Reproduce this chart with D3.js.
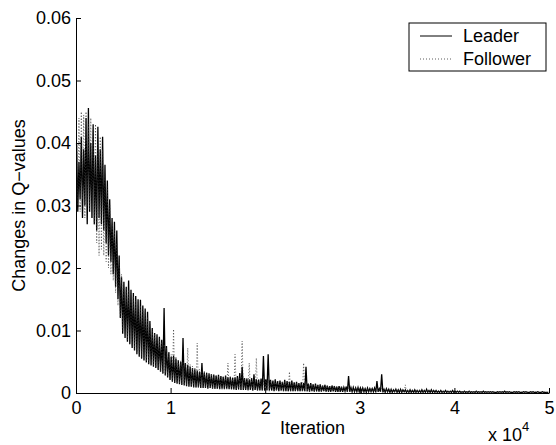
<!DOCTYPE html>
<html>
<head>
<meta charset="utf-8">
<script src="https://cdn.jsdelivr.net/npm/d3@7"></script>
<style>
  body { margin: 0; background: #fff; }
  text { font-family: "Liberation Sans", Arial, Helvetica, sans-serif; }
</style>
</head>
<body>
<svg id="chart"></svg>
<script>
const width = 556
const height = 445
const margin = {left: 76, right: 7, top: 18, bottom: 52}

const binSize = 250
const leaderHigh = [
  .040, .037, .041, .039, .044, .0456, .040, .043, .038, .0426,
  .039, .041, .0365, .034, .031, .028, .0274, .026, .022, .0185,
  .0178, .017, .018, .0165, .016, .0155, .015, .0149, .014, .0135,
  .013, .0115, .0104, .0096, .0094, .009, .0085, .0136, .0075, .0065,
  .0058, .006, .0055, .0052, .005, .0088, .0048, .0045, .0042, .004,
  .0038, .0036, .0034, .0048, .0033, .0032, .0031, .003, .0029, .0028,
  .0029, .0027, .0026, .0028, .0025, .0026, .0024, .0025, .0027, .0032,
  .0042, .0024, .0023, .0022, .0024, .003, .0022, .0021, .0023, .0059,
  .0022, .0062, .0021, .002, .0022, .0019, .002, .0018, .0021, .0019,
  .0018, .002, .0017, .0018, .0016, .0017, .0016, .0042, .0015, .0016,
  .0014, .0015, .0013, .0014, .0012, .0013, .0012, .0011, .0012, .0011,
  .001, .0011, .001, .0009, .001, .0027, .0009, .0009, .0008, .0009,
  .0008, .0008, .0007, .0008, .0007, .0007, .0008, .0019, .0007, .003,
  .0006, .0007, .0006, .0006, .0005, .0006, .0005, .0006, .0005, .0005,
  .0004, .0005, .0004, .0005, .0004, .0004, .0005, .0004, .0006, .0004,
  .0005, .0004, .0004, .0003, .0004, .0003, .0004, .0003, .0003, .0004,
  .0003, .0003, .0003, .0002, .0003, .0002, .0003, .0002, .0002, .0003,
  .0002, .0002, .0003, .0002, .0002, .0002, .0002, .0001, .0002, .0002,
  .0002, .0003, .0002, .0002, .0001, .0002, .0002, .0002, .0001, .0002,
  .0002, .0001, .0002, .0002, .0001, .0002, .0001, .0002, .0001, .0001
]
const leaderLow = [
  .029, .031, .028, .030, .027, .029, .028, .027, .026, .028,
  .027, .026, .024, .022, .021, .019, .017, .015, .012, .0095,
  .0088, .0082, .0078, .0072, .0068, .0062, .0058, .0055, .0052, .0049,
  .0046, .0044, .0042, .004, .0037, .0034, .0031, .0028, .0025, .0021,
  .0018, .0016, .0015, .0014, .0013, .0012, .0011, .001, .001, .0009,
  .0009, .0009, .0008, .0008, .0008, .0007, .0008, .0007, .0007, .0007,
  .0006, .0007, .0006, .0007, .0006, .0006, .0006, .0005, .0006, .0005,
  .0005, .0005, .0005, .0005, .0004, .0005, .0004, .0004, .0004, .0004,
  .0004, .0004, .0004, .0003, .0004, .0003, .0004, .0003, .0003, .0003,
  .0003, .0003, .0003, .0003, .0003, .0003, .0003, .0003, .0002, .0003,
  .0002, .0003, .0002, .0002, .0003, .0002, .0002, .0002, .0003, .0002,
  .0002, .0002, .0002, .0003, .0002, .0002, .0002, .0002, .0002, .0002,
  .0002, .0002, .0001, .0002, .0002, .0002, .0001, .0002, .0002, .0001,
  .0001, .0002, .0001, .0001, .0002, .0001, .0001, .0001, .0002, .0001,
  .0001, .0001, .0001, .0001, .0001, .0001, .0001, .0001, .0001, .0001,
  .0001, .0001, .0001, .0001, .0001, .0001, .0001, .0001, .0001, .0001,
  .0001, .0001, .0001, .0001, .0001, .0001, .0001, .0001, .0001, .0001,
  .0001, .0001, .0001, .0001, .0001, .0001, .0001, .0001, .0001, .0001,
  .0001, .0001, .0001, .0001, .0001, .0001, .0001, .0001, .0001, .0001,
  .0001, .0001, .0001, .0001, .0001, .0001, .0001, .0001, .0001, .0001
]
const followerHigh = [
  .041, .044, .045, .0445, .045, .043, .044, .042, .043, .04,
  .041, .039, .035, .033, .03, .027, .026, .024, .021, .019,
  .017, .0168, .0165, .016, .0155, .015, .0145, .014, .0135, .013,
  .0122, .011, .0102, .0095, .009, .0087, .0082, .0078, .0072, .0066,
  .0062, .0102, .0058, .0054, .0052, .005, .0048, .0072, .0046, .0043,
  .0041, .008, .0038, .0036, .0035, .0033, .0032, .0031, .003, .0029,
  .0028, .0028, .0027, .0026, .0048, .0026, .0025, .0062, .0025, .0024,
  .0083, .0024, .0023, .0048, .0023, .0022, .0056, .0022, .0021, .0021,
  .002, .0021, .002, .0019, .002, .0019, .0018, .0019, .0018, .0017,
  .0034, .0017, .0016, .0017, .0016, .0015, .0048, .0015, .0014, .0015,
  .0014, .0013, .0014, .0013, .0012, .0013, .0012, .0012, .0011, .0012,
  .0011, .0011, .001, .0011, .001, .001, .0009, .001, .0009, .0009,
  .0009, .0008, .0009, .0008, .0008, .0008, .0007, .0008, .0007, .0007,
  .0007, .0007, .0006, .0007, .0006, .0006, .0006, .0006, .0005, .0013,
  .0005, .0005, .0005, .0004, .0005, .0004, .0005, .0004, .0004, .0004,
  .0004, .0004, .0003, .0004, .0003, .0004, .0003, .0003, .0003, .0003,
  .0003, .0003, .0002, .0003, .0003, .0002, .0003, .0002, .0002, .0003,
  .0002, .0002, .0002, .0003, .0002, .0002, .0002, .0002, .0001, .0002,
  .0002, .0002, .0002, .0001, .0002, .0002, .0001, .0002, .0002, .0002,
  .0001, .0002, .0002, .0001, .0002, .0001, .0002, .0001, .0002, .0001
]
const followerLow = [
  .03, .029, .031, .028, .03, .029, .028, .027, .024, .022,
  .023, .022, .021, .02, .019, .018, .016, .014, .012, .01,
  .0092, .0085, .008, .0075, .007, .0065, .006, .0057, .0054, .005,
  .0048, .0045, .0043, .0041, .0038, .0035, .0032, .0029, .0026, .0022,
  .0019, .0017, .0016, .0015, .0014, .0013, .0012, .0011, .001, .001,
  .0009, .0009, .0009, .0008, .0008, .0008, .0007, .0007, .0007, .0007,
  .0007, .0006, .0006, .0006, .0006, .0006, .0005, .0006, .0005, .0005,
  .0005, .0005, .0004, .0005, .0004, .0004, .0004, .0004, .0004, .0004,
  .0004, .0003, .0004, .0003, .0003, .0004, .0003, .0003, .0003, .0003,
  .0003, .0003, .0003, .0002, .0003, .0003, .0003, .0002, .0003, .0002,
  .0002, .0002, .0003, .0002, .0002, .0002, .0002, .0003, .0002, .0002,
  .0002, .0002, .0002, .0002, .0002, .0002, .0002, .0001, .0002, .0002,
  .0002, .0001, .0002, .0002, .0001, .0002, .0002, .0001, .0002, .0001,
  .0001, .0001, .0002, .0001, .0001, .0001, .0002, .0001, .0001, .0001,
  .0001, .0001, .0001, .0001, .0001, .0001, .0001, .0001, .0001, .0001,
  .0001, .0001, .0001, .0001, .0001, .0001, .0001, .0001, .0001, .0001,
  .0001, .0001, .0001, .0001, .0001, .0001, .0001, .0001, .0001, .0001,
  .0001, .0001, .0001, .0001, .0001, .0001, .0001, .0001, .0001, .0001,
  .0001, .0001, .0001, .0001, .0001, .0001, .0001, .0001, .0001, .0001,
  .0001, .0001, .0001, .0001, .0001, .0001, .0001, .0001, .0001, .0001
]

const xTicks = [0, 10000, 20000, 30000, 40000, 50000]
const xTickLabels = ['0', '1', '2', '3', '4', '5']
const yTicks = [0, 0.01, 0.02, 0.03, 0.04, 0.05, 0.06]
const yTickLabels = ['0', '0.01', '0.02', '0.03', '0.04', '0.05', '0.06']
const seriesNames = ['Leader', 'Follower']

// turn the bins into a zigzag line: high point then low point inside each bin
function toPoints(high, low) {
  const pts = []
  high.forEach((h, i) => {
    pts.push({it: i * binSize + binSize * 0.25, v: h})
    pts.push({it: i * binSize + binSize * 0.75, v: low[i]})
  })
  return pts
}

const svg = d3.select('#chart').attr('width', width).attr('height', height)

const x = d3.scaleLinear().domain([0, 50000]).range([margin.left, width - margin.right])
const y = d3.scaleLinear().domain([0, 0.06]).range([height - margin.bottom, margin.top])

const line = d3.line().x(d => x(d.it)).y(d => y(d.v))

svg.append('path')
  .datum(toPoints(leaderHigh, leaderLow))
  .attr('fill', 'none')
  .attr('stroke', '#000')
  .attr('stroke-width', 1.3)
  .attr('d', line)

svg.append('path')
  .datum(toPoints(followerHigh, followerLow))
  .attr('fill', 'none')
  .attr('stroke', '#333')
  .attr('stroke-width', 0.8)
  .attr('stroke-dasharray', '1,2')
  .attr('d', line)

//axes, ticks point inwards like matlab
const xAxis = d3.axisBottom(x).tickValues(xTicks)
  .tickFormat((d, i) => xTickLabels[i]).tickSizeInner(-5).tickSizeOuter(0).tickPadding(8)
const yAxis = d3.axisLeft(y).tickValues(yTicks)
  .tickFormat((d, i) => yTickLabels[i]).tickSizeInner(-5).tickSizeOuter(0).tickPadding(5)

const gx = svg.append('g').attr('transform', `translate(0, ${height - margin.bottom})`).call(xAxis)
const gy = svg.append('g').attr('transform', `translate(${margin.left}, 0)`).call(yAxis)
for (const g of [gx, gy]) {
  g.selectAll('text').attr('font-size', 18).attr('fill', '#000').attr('font-family', '"Liberation Sans", Arial, sans-serif')
  g.selectAll('line').attr('stroke', '#000')
  g.select('.domain').attr('stroke', '#000')
}

svg.append('text')
  .attr('x', (x.range()[0] + x.range()[1]) / 2)
  .attr('y', 434)
  .attr('text-anchor', 'middle')
  .attr('font-size', 18)
  .text('Iteration')

svg.append('text')
  .attr('transform', `translate(25, ${(y.range()[0] + y.range()[1]) / 2}) rotate(-90)`)
  .attr('text-anchor', 'middle')
  .attr('font-size', 18)
  .text('Changes in Q\u2212values')

const expo = svg.append('text').attr('x', 488).attr('y', 441).attr('font-size', 18)
expo.append('tspan').text('x 10')
expo.append('tspan').attr('dy', -10).attr('font-size', 13).text('4')

// legend
const leg = svg.append('g').attr('transform', 'translate(409, 23)')
leg.append('rect').attr('width', 137).attr('height', 48)
  .attr('fill', '#fff').attr('stroke', '#000').attr('stroke-width', 1)
seriesNames.forEach((name, i) => {
  const ly = 13 + i * 23
  leg.append('line').attr('x1', 11).attr('x2', 43).attr('y1', ly).attr('y2', ly)
    .attr('stroke', i === 0 ? '#000' : '#333')
    .attr('stroke-width', i === 0 ? 1 : 0.8)
    .attr('stroke-dasharray', i === 0 ? null : '1,2')
  leg.append('text').attr('x', 54).attr('y', ly).attr('dy', '0.35em')
    .attr('font-size', 18).text(name)
})
</script>
</body>
</html>
